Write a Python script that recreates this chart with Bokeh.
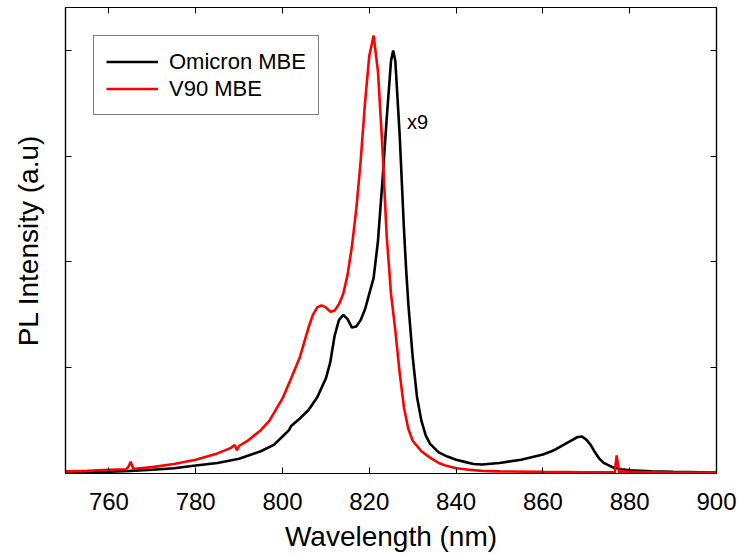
from bokeh.plotting import figure
from bokeh.models import Range1d, LinearAxis, FixedTicker, Legend, LegendItem, Label
from bokeh.embed import file_html
from bokeh.resources import INLINE

# ---- data ----
omicron_wl = [750, 755, 760, 765, 770, 775, 780, 785, 790, 795, 798, 800, 801.5, 802, 804, 806, 808,
              810, 811, 812, 813, 814, 815, 816, 817, 818, 819, 820, 821, 822, 823, 824, 825, 825.5,
              826, 827, 828, 828.5, 829, 830, 831, 832, 833, 834, 836, 838, 840, 842, 844, 846, 850,
              855, 860, 862, 863, 866, 868, 869, 870, 871, 872, 873, 874, 876, 878, 880, 885, 890, 900]
omicron_pl = [0.01, 0.012, 0.018, 0.025, 0.035, 0.05, 0.075, 0.1, 0.14, 0.21, 0.27, 0.35, 0.41, 0.45, 0.52, 0.6, 0.72,
              0.9, 1.05, 1.3, 1.45, 1.5, 1.46, 1.38, 1.39, 1.45, 1.55, 1.7, 1.85, 2.2, 2.75, 3.35, 3.9, 4.0,
              3.9, 3.2, 2.3, 1.92, 1.6, 1.1, 0.72, 0.5, 0.36, 0.28, 0.2, 0.16, 0.13, 0.11, 0.09, 0.085, 0.1,
              0.13, 0.18, 0.21, 0.23, 0.3, 0.345, 0.35, 0.32, 0.27, 0.2, 0.14, 0.1, 0.06, 0.04, 0.03, 0.02, 0.015, 0.01]

v90_wl = [750, 755, 760, 764, 764.6, 765, 765.6, 766, 770, 775, 780, 785, 788, 789, 789.5, 790, 792, 795, 797,
          800, 802, 804, 806, 807, 808, 809, 810, 811, 812, 813, 814, 815, 816, 817, 818, 819, 820, 821,
          822, 823, 824, 825, 826, 827, 828, 829, 830, 832, 834, 836, 838, 840, 843, 846, 850, 860, 870,
          876, 876.5, 877, 877.6, 878, 880, 890, 900]
v90_pl = [0.02, 0.025, 0.035, 0.04, 0.07, 0.11, 0.05, 0.045, 0.06, 0.09, 0.13, 0.19, 0.24, 0.27, 0.22, 0.26, 0.31, 0.41, 0.5,
          0.71, 0.9, 1.1, 1.38, 1.5, 1.57, 1.59, 1.57, 1.53, 1.54, 1.6, 1.7, 1.88, 2.15, 2.5, 2.95, 3.5, 3.95, 4.14,
          3.8, 3.1, 2.25, 1.7, 1.35, 0.95, 0.62, 0.42, 0.31, 0.21, 0.15, 0.1, 0.07, 0.05, 0.035, 0.025, 0.02, 0.015, 0.012,
          0.012, -0.005, 0.17, 0.0, 0.02, 0.015, 0.01, 0.01]

series_names = ["Omicron MBE", "V90 MBE"]
x_ticks = [760, 780, 800, 820, 840, 860, 880, 900]
y_ticks = [1, 2, 3, 4]
scale_note = "x9"
scale_note_x = 828.7
scale_note_y = 3.32

FONT = "Liberation Sans"

p = figure(width=738, height=554, output_backend="svg", toolbar_location=None,
           x_range=Range1d(750, 900), y_range=Range1d(0, 4.406),
           x_axis_label="Wavelength (nm)", y_axis_label="PL Intensity (a.u)",
           min_border_left=65, min_border_right=22, min_border_top=7, min_border_bottom=80)
p.grid.visible = False
p.outline_line_color = "black"
p.outline_line_width = 1.2
p.background_fill_color = "white"
p.border_fill_color = "white"

# bottom axis
xa = p.xaxis[0]
xa.ticker = FixedTicker(ticks=x_ticks)
xa.minor_tick_line_color = None
xa.major_tick_in = 6
xa.major_tick_out = 0
xa.major_label_standoff = 19
xa.major_label_text_font = FONT
xa.major_label_text_font_size = "24px"
xa.major_label_text_color = "black"
xa.axis_label_text_font = FONT
xa.axis_label_text_font_size = "28px"
xa.axis_label_text_font_style = "normal"
xa.axis_label_text_color = "black"
xa.axis_label_standoff = 8
xa.axis_line_width = 1.2

# left axis (ticks without labels)
ya = p.yaxis[0]
ya.ticker = FixedTicker(ticks=y_ticks)
ya.major_label_overrides = {t: "" for t in y_ticks}
ya.minor_tick_line_color = None
ya.major_tick_in = 6
ya.major_tick_out = 0
ya.major_label_standoff = 0
ya.axis_label_text_font = FONT
ya.axis_label_text_font_size = "28px"
ya.axis_label_text_font_style = "normal"
ya.axis_label_text_color = "black"
ya.axis_label_standoff = 22
ya.axis_line_width = 1.2

# mirror axes (ticks only)
top = LinearAxis(ticker=FixedTicker(ticks=x_ticks), major_tick_in=6, major_tick_out=0,
                 minor_tick_line_color=None, major_label_overrides={t: "" for t in x_ticks},
                 major_label_standoff=0, axis_line_width=1.2)
right = LinearAxis(ticker=FixedTicker(ticks=y_ticks), major_tick_in=6, major_tick_out=0,
                   minor_tick_line_color=None, major_label_overrides={t: "" for t in y_ticks},
                   major_label_standoff=0, axis_line_width=1.2)
p.add_layout(top, "above")
p.add_layout(right, "right")

r1 = p.line(omicron_wl, omicron_pl, line_color="black", line_width=2.6)
r2 = p.line(v90_wl, v90_pl, line_color="#ff0000", line_width=2.6)

legend = Legend(items=[LegendItem(label=series_names[0], renderers=[r1]),
                       LegendItem(label=series_names[1], renderers=[r2])],
                location="top_left", margin=28, padding=12, spacing=0,
                glyph_width=52, glyph_height=27, label_height=27, label_standoff=11,
                label_text_font=FONT, label_text_font_size="22px", label_text_color="black",
                border_line_color="black", border_line_width=1.2,
                background_fill_alpha=1.0)
p.add_layout(legend)

p.add_layout(Label(x=scale_note_x, y=scale_note_y, text=scale_note, text_font=FONT,
                   text_font_size="20px", text_color="black", text_baseline="alphabetic"))

open("out.html", "w").write(file_html(p, INLINE))
